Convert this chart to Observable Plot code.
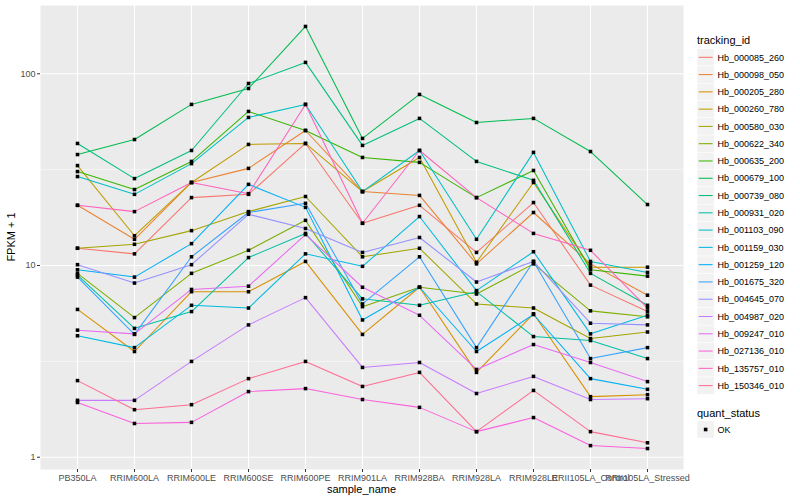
<!DOCTYPE html>
<html>
<head>
<meta charset="utf-8">
<script src="https://cdn.jsdelivr.net/npm/d3@7"></script>
<script src="https://cdn.jsdelivr.net/npm/@observablehq/plot@0.6"></script>
<style>
  body { margin: 0; background: #fff; }
  #chart svg { font-family: "Liberation Sans", Arial, sans-serif; }
</style>
</head>
<body>
<div id="chart"></div>
<script>
// ---- data ----
const samples = ["PB350LA","RRIM600LA","RRIM600LE","RRIM600SE","RRIM600PE","RRIM901LA","RRIM928BA","RRIM928LA","RRIM928LE","RRII105LA_Control","RRII105LA_Stressed"];
const trackingIds = ["Hb_000085_260","Hb_000098_050","Hb_000205_280","Hb_000260_780","Hb_000580_030","Hb_000622_340","Hb_000635_200","Hb_000679_100","Hb_000739_080","Hb_000931_020","Hb_001103_090","Hb_001159_030","Hb_001259_120","Hb_001675_320","Hb_004645_070","Hb_004987_020","Hb_009247_010","Hb_027136_010","Hb_135757_010","Hb_150346_010"];
const seriesColors = ["#F8766D","#EA8331","#D89000","#C09B00","#A3A500","#7CAE00","#39B600","#00BB4E","#00BF7D","#00C1A3","#00BFC4","#00BAE0","#00B0F6","#35A2FF","#9590FF","#C77CFF","#E76BF3","#FA62DB","#FF62BC","#FF6C91"];

// FPKM + 1 per sample (order of `samples`)
const Hb_000085_260 = [12.3, 11.5, 22.6, 23.5, 43.3, 16.6, 20.6, 11.7, 21.3, 7.9, 5.75];
const Hb_000098_050 = [20.6, 13.7, 27.1, 32.1, 50.6, 24.3, 23.2, 10.2, 18.9, 10.2, 7.0];
const Hb_000205_280 = [5.9, 3.56, 7.3, 7.3, 10.5, 4.37, 7.7, 2.77, 5.6, 2.07, 2.12];
const Hb_000260_780 = [33.2, 14.3, 27.1, 42.8, 43.3, 24.3, 36.6, 10.4, 27.1, 9.8, 9.8];
const Hb_000580_030 = [12.3, 12.9, 15.2, 19.1, 22.9, 11.1, 12.3, 6.3, 6.0, 4.16, 4.5];
const Hb_000622_340 = [9.1, 5.35, 9.1, 12.0, 17.2, 6.1, 7.7, 7.1, 10.2, 5.8, 5.4];
const Hb_000635_200 = [30.9, 24.9, 34.9, 63.6, 50.6, 36.6, 34.5, 22.6, 31.3, 9.5, 8.8];
const Hb_000679_100 = [37.9, 45.4, 69.2, 83.8, 176.5, 46.0, 78.0, 55.7, 58.5, 39.3, 20.8];
const Hb_000739_080 = [43.3, 28.4, 39.8, 89.0, 114.6, 42.3, 58.5, 34.9, 27.8, 9.1, 6.2];
const Hb_000931_020 = [8.9, 4.7, 5.75, 11.0, 14.7, 6.7, 6.2, 7.3, 4.26, 4.06, 3.27];
const Hb_001103_090 = [29.1, 23.5, 34.0, 59.2, 69.2, 24.3, 39.8, 13.7, 38.9, 10.5, 9.2];
const Hb_001159_030 = [4.3, 3.73, 6.2, 6.0, 11.5, 9.9, 18.0, 7.4, 11.8, 4.4, 5.5];
const Hb_001259_120 = [9.5, 8.7, 13.0, 26.5, 20.1, 5.2, 7.7, 3.56, 5.55, 2.57, 2.26];
const Hb_001675_320 = [8.7, 4.37, 11.1, 18.9, 21.1, 6.3, 11.1, 3.73, 10.5, 3.27, 3.73];
const Hb_004645_070 = [10.1, 8.1, 10.1, 18.5, 15.6, 11.7, 14.0, 8.2, 10.5, 5.0, 4.9];
const Hb_004987_020 = [1.98, 1.98, 3.16, 4.9, 6.8, 2.94, 3.12, 2.15, 2.64, 2.00, 2.02];
const Hb_009247_010 = [4.6, 4.4, 7.5, 7.8, 14.5, 7.7, 5.5, 2.87, 3.87, 3.12, 2.48];
const Hb_027136_010 = [1.93, 1.50, 1.52, 2.20, 2.28, 2.00, 1.82, 1.36, 1.61, 1.15, 1.11];
const Hb_135757_010 = [20.6, 19.1, 27.1, 23.7, 69.2, 16.6, 39.8, 22.6, 14.7, 12.0, 6.0];
const Hb_150346_010 = [2.51, 1.77, 1.88, 2.57, 3.16, 2.34, 2.77, 1.36, 2.23, 1.36, 1.19];

const seriesValues = [Hb_000085_260, Hb_000098_050, Hb_000205_280, Hb_000260_780, Hb_000580_030,
  Hb_000622_340, Hb_000635_200, Hb_000679_100, Hb_000739_080, Hb_000931_020, Hb_001103_090,
  Hb_001159_030, Hb_001259_120, Hb_001675_320, Hb_004645_070, Hb_004987_020, Hb_009247_010,
  Hb_027136_010, Hb_135757_010, Hb_150346_010];

const yTicks = [1, 10, 100];
const yTickLabels = ["1", "10", "100"];
const yMinor = [3.162, 31.62];
const quantStatus = ["OK"];

// ---- table ----
const rows = trackingIds.flatMap((id, i) =>
  samples.map((s, j) => ({ id, sample: s, value: seriesValues[i][j], status: "OK" })));

// ---- plot ----
const W = 800, H = 500;
const mL = 40, mR = 117, mT = 5, mB = 31;

const chart = Plot.plot({
  width: W, height: H,
  marginLeft: mL, marginRight: mR, marginTop: mT, marginBottom: mB,
  style: { background: "#fff", color: "#4D4D4D", fontSize: "9px", fontFamily: "Liberation Sans, Arial, sans-serif" },
  x: { type: "point", domain: samples, padding: 0.6, label: null },
  y: { type: "log", domain: [0.863, 227], label: null },
  color: { domain: trackingIds, range: seriesColors },
  marks: [
    Plot.frame({ fill: "#EBEBEB", stroke: null }),
    Plot.ruleY(yMinor, { stroke: "#fff", strokeWidth: 0.55 }),
    Plot.ruleY(yTicks, { stroke: "#fff", strokeWidth: 1.1 }),
    Plot.ruleX(samples, { stroke: "#fff", strokeWidth: 1.1 }),
    Plot.line(rows, { x: "sample", y: "value", z: "id", stroke: "id", strokeWidth: 1.05 }),
    Plot.dot(rows, { x: "sample", y: "value", symbol: "square", r: 2, fill: "#000" }),
    Plot.axisY({ ticks: yTicks, tickFormat: (d) => yTickLabels[yTicks.indexOf(d)], tickSize: 3, tickPadding: 2, fontSize: 9, label: null, stroke: "#333" }),
    Plot.axisX({ tickSize: 3, tickPadding: 2, fontSize: 9, label: null, stroke: "#333" })
  ]
});

document.getElementById("chart").appendChild(chart);

// ---- axis titles & legends ----
const svg = d3.select(chart);
const panelRight = W - mR;

svg.append("text")
  .attr("x", (mL + panelRight) / 2).attr("y", 493)
  .attr("text-anchor", "middle").attr("font-size", 11).attr("fill", "#000")
  .text("sample_name");

svg.append("text")
  .attr("transform", `translate(15,${(mT + H - mB) / 2}) rotate(-90)`)
  .attr("text-anchor", "middle").attr("font-size", 11).attr("fill", "#000")
  .text("FPKM + 1");

const lg = svg.append("g").attr("transform", "translate(697,0)").attr("text-anchor", "start");
lg.append("text").attr("x", 0).attr("y", 44).attr("font-size", 11).attr("fill", "#000")
  .attr("text-anchor", "start").text("tracking_id");

const keyH = 17.28, firstC = 57.3;
trackingIds.forEach((id, i) => {
  const cy = firstC + i * keyH;
  lg.append("rect").attr("x", 0).attr("y", cy - keyH / 2).attr("width", 17.28).attr("height", keyH)
    .attr("fill", "#F2F2F2").attr("stroke", "#fff").attr("stroke-width", 0.5);
  lg.append("line").attr("x1", 1.7).attr("x2", 15.6).attr("y1", cy).attr("y2", cy)
    .attr("stroke", seriesColors[i]).attr("stroke-width", 1.05);
  lg.append("text").attr("x", 20.5).attr("y", cy + 3.2).attr("font-size", 9).attr("fill", "#000")
    .attr("text-anchor", "start").text(id);
});

lg.append("text").attr("x", 0).attr("y", 416.5).attr("font-size", 11).attr("fill", "#000")
  .attr("text-anchor", "start").text("quant_status");
quantStatus.forEach((q, i) => {
  const cy = 429.5 + i * keyH;
  lg.append("rect").attr("x", 0).attr("y", cy - keyH / 2).attr("width", 17.28).attr("height", keyH)
    .attr("fill", "#F2F2F2").attr("stroke", "#fff").attr("stroke-width", 0.5);
  lg.append("rect").attr("x", 8.64 - 1.8).attr("y", cy - 1.8).attr("width", 3.6).attr("height", 3.6).attr("fill", "#000");
  lg.append("text").attr("x", 20.5).attr("y", cy + 3.2).attr("font-size", 9).attr("fill", "#000")
    .attr("text-anchor", "start").text(q);
});
</script>
</body>
</html>
